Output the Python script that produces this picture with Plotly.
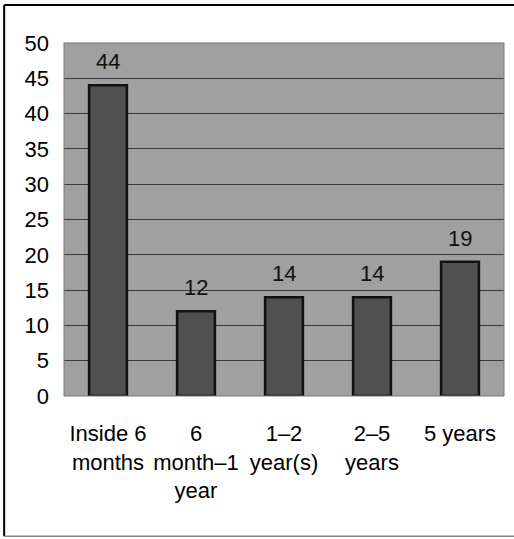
import plotly.graph_objects as go

categories = ["Inside 6<br>months", "6<br>month–1<br>year", "1–2<br>year(s)", "2–5<br>years", "5 years"]
values = [44, 12, 14, 14, 19]
y_ticks = [0, 5, 10, 15, 20, 25, 30, 35, 40, 45, 50]

FONT = "Liberation Sans Narrow, Arial Narrow, Liberation Sans, Arial, sans-serif"

fig = go.Figure()
fig.add_trace(go.Bar(
    x=categories, y=values,
    marker=dict(color="#505050", line=dict(color="#111111", width=2.5)),
    width=0.43,
))

for c, v in zip(categories, values):
    fig.add_annotation(x=c, y=v, text=str(v), showarrow=False, yanchor="bottom",
                       yshift=9, font=dict(family=FONT, size=22, color="#111111"))

fig.update_layout(
    width=514, height=539,
    margin=dict(l=64, r=10, t=43, b=143),
    paper_bgcolor="white", plot_bgcolor="#a0a0a0",
    showlegend=False,
    font=dict(family=FONT, size=21, color="black"),
    xaxis=dict(showgrid=False, showline=False, ticks="", ticklabelstandoff=22,
               tickfont=dict(family=FONT, size=22)),
    yaxis=dict(range=[0, 50], tickvals=y_ticks, showgrid=True, gridcolor="#3a3a3a",
               gridwidth=1, zeroline=False, showline=False, ticks="",
               ticklabelstandoff=14, tickfont=dict(family=FONT, size=22)),
    shapes=[
        dict(type="line", xref="paper", yref="paper", x0=-0.136, x1=1.023, y0=1.108, y1=1.108,
             line=dict(color="black", width=2)),
        dict(type="line", xref="paper", yref="paper", x0=-0.136, x1=-0.136, y0=1.108, y1=-0.397,
             line=dict(color="black", width=2)),
        dict(type="line", xref="paper", yref="paper", x0=-0.136, x1=1.023, y0=-0.397, y1=-0.397,
             line=dict(color="#888888", width=1.5)),
        dict(type="rect", xref="paper", yref="paper", x0=0, x1=1, y0=0, y1=1,
             line=dict(color="#777777", width=1)),
    ],
)

fig.write_html("out.html")
